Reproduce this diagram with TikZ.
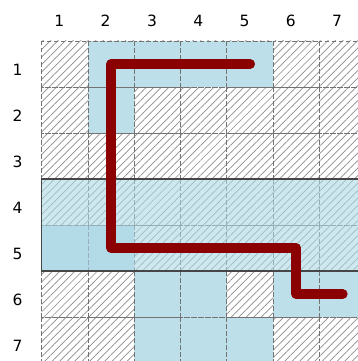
\documentclass[tikz,border=0pt]{standalone}
\usepackage{fontspec}
\setmainfont{DejaVu Sans}
\usetikzlibrary{patterns.meta}
\definecolor{cellblue}{RGB}{189,223,233}
\definecolor{bandblue}{RGB}{173,216,230}
\definecolor{pathred}{RGB}{139,0,0}
\definecolor{hatchgray}{RGB}{140,140,140}
\definecolor{gridgray}{RGB}{115,115,115}
\definecolor{bandedge}{RGB}{70,70,70}
\begin{document}
\begin{tikzpicture}[x=1pt,y=-1pt,
  hatchcell/.style={pattern={Lines[angle=45,distance=5.3pt,line width=0.7pt]},pattern color=hatchgray},
  bluecell/.style={fill=cellblue},
  gridcell/.style={draw=gridgray,dash pattern=on 4.5pt off 2.5pt,line width=0.9pt},
  lbl/.style={font=\fontsize{15.5}{18}\selectfont,text=black,inner sep=0pt},
  band/.style={fill=bandblue,fill opacity=0.6,draw=bandedge,draw opacity=1,line width=1.4pt},
  route/.style={draw=pathred,line width=10pt,line cap=round,line join=round}]
\useasboundingbox (0,0) rectangle (358,361);
\clip (0,0) rectangle (358,361);
\def\gx{41.7}\def\gy{41}\def\cw{46.3}\def\ch{46}
% hatched background for all cells
\foreach \i in {1,...,7}{
  \foreach \j in {1,...,7}{
    \path[hatchcell] ({\gx+\cw*(\i-1)},{\gy+\ch*(\j-1)}) rectangle ({\gx+\cw*\i},{\gy+\ch*\j});
  }
}
% blue cells
\foreach \i/\j in {2/1,3/1,4/1,5/1,2/2,1/5,2/5,3/6,4/6,6/6,7/6,3/7,4/7,5/7}{
  \path[bluecell] ({\gx+\cw*(\i-1)},{\gy+\ch*(\j-1)}) rectangle ({\gx+\cw*\i},{\gy+\ch*\j});
}
% dashed grid
\foreach \i in {1,...,7}{
  \foreach \j in {1,...,7}{
    \path[gridcell] ({\gx+\cw*(\i-1)},{\gy+\ch*(\j-1)}) rectangle ({\gx+\cw*\i},{\gy+\ch*\j});
  }
}
% highlighted band rows 4-5
\path[band] ({\gx},{\gy+\ch*3}) rectangle ({\gx+\cw*7},{\gy+\ch*5});
% labels
\foreach \i in {1,...,7}{
  \node[lbl] (col\i) at ({\gx+\cw*(\i-0.5)-5.5},20.5) {\i};
  \node[lbl] (row\i) at (17.5,{\gy+\ch*(\i-0.5)+6}) {\i};
}
% cell centres used by the route
\foreach \i in {1,...,7}{
  \foreach \j in {1,...,7}{
    \coordinate (c-\i-\j) at ({\gx+\cw*(\i-0.5)},{\gy+\ch*(\j-0.5)});
  }
}
\draw[route] (c-5-1) -- (c-2-1) -- (c-2-5) -- (c-6-5) -- (c-6-6) -- (c-7-6);
\end{tikzpicture}
\end{document}
